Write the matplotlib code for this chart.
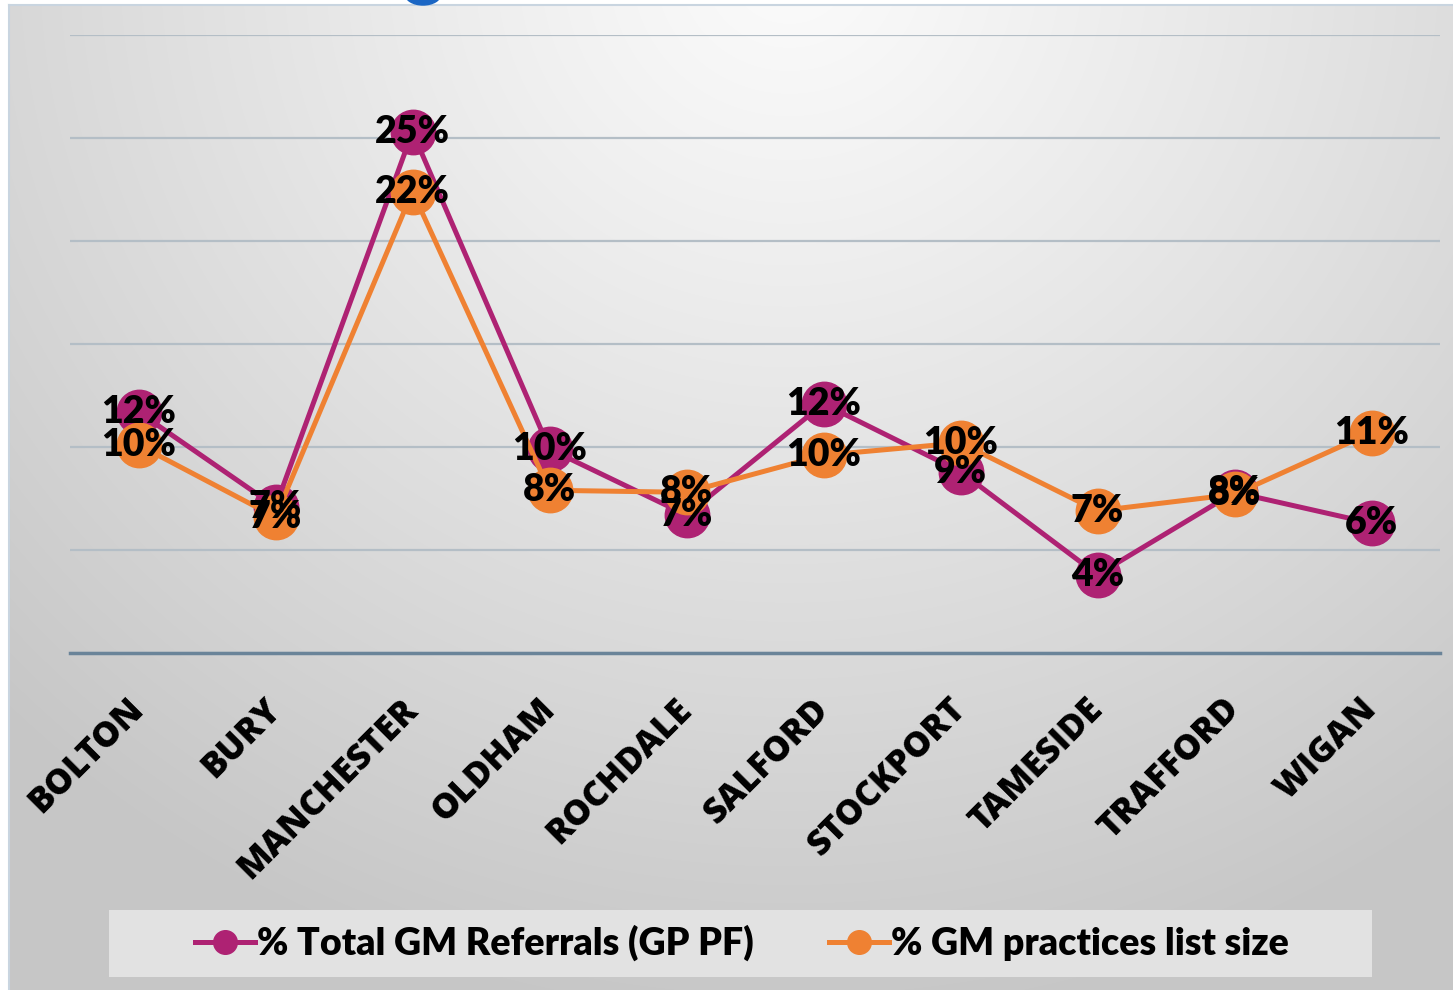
import numpy as np
import matplotlib
matplotlib.use("Agg")
import matplotlib.pyplot as plt
from matplotlib.patches import Rectangle, Ellipse
from matplotlib.lines import Line2D
from matplotlib.ticker import MultipleLocator

categories = ["BOLTON", "BURY", "MANCHESTER", "OLDHAM", "ROCHDALE", "SALFORD",
              "STOCKPORT", "TAMESIDE", "TRAFFORD", "WIGAN"]
referrals = [0.117, 0.071, 0.253, 0.099, 0.067, 0.121, 0.088, 0.038, 0.078, 0.063]
list_size = [0.101, 0.066, 0.224, 0.079, 0.078, 0.096, 0.102, 0.069, 0.077, 0.107]
series_names = ["% Total GM Referrals (GP PF)", "% GM practices list size"]

PINK = "#AE2273"
ORANGE = "#EF8132"
FONT = "Lato"

W, H = 1453, 990
fig = plt.figure(figsize=(W / 100, H / 100), dpi=100)
fig.patch.set_facecolor("white")

# background radial gradient panel
bg = fig.add_axes([9 / W, 0, 1 - 9 / W, 1 - 5 / H], zorder=0)
bg.set_axis_off()
yy, xx = np.mgrid[0:985, 0:1444]
cx, cy = 780, -40
d = np.sqrt(((xx - cx) / 1.05) ** 2 + ((yy - cy) / 1.0) ** 2)
t = np.clip(d / 1050, 0, 1)
val = 0.985 - 0.205 * t ** 1.1
img = np.dstack([val, val, val])
bg.imshow(img, aspect="auto", extent=[0, 1, 0, 1], interpolation="bilinear")
bg.set_xlim(0, 1)
bg.set_ylim(0, 1)
# frame borders
fig.add_artist(Line2D([9 / W, 1], [1 - 4.5 / H, 1 - 4.5 / H], color="#c9d5e0", lw=1.5, zorder=1))
fig.add_artist(Line2D([9 / W, 9 / W], [0, 1 - 4.5 / H], color="#c9d5e0", lw=1.5, zorder=1))
# small blue shape clipped at top
fig.add_artist(Ellipse((423 / W, 1 + 6 / H), 36 / W, 22 / H, color="#1a66c4", zorder=1))

ax = fig.add_axes([70 / W, 1 - 653 / H, (1440 - 70) / W, (653 - 35) / H], zorder=2)
ax.patch.set_alpha(0)
x = np.arange(len(categories))

ax.set_xlim(-0.5, len(categories) - 0.5)
ax.set_ylim(0, 0.30)
ax.yaxis.set_major_locator(MultipleLocator(0.05))
ax.grid(axis="y", color="#b4bec6", lw=1.6)
ax.set_axisbelow(True)
for s in ["top", "right", "left"]:
    ax.spines[s].set_visible(False)
ax.spines["bottom"].set_color("#6a8499")
ax.spines["bottom"].set_linewidth(2.5)
ax.tick_params(axis="y", left=False, labelleft=False)
ax.tick_params(axis="x", length=0, pad=37)

ax.plot(x, referrals, color=PINK, lw=3.6, marker="o", ms=32, mec=PINK, mfc=PINK,
        label=series_names[0], zorder=3)
ax.plot(x, list_size, color=ORANGE, lw=3.6, marker="o", ms=32, mec=ORANGE, mfc=ORANGE,
        label=series_names[1], zorder=4)

for xi, v in zip(x, referrals):
    ax.text(xi, v, f"{v:.0%}", ha="center", va="center", fontsize=27,
            fontfamily=FONT, fontweight="heavy", color="black", zorder=6)
for xi, v in zip(x, list_size):
    ax.text(xi, v, f"{v:.0%}", ha="center", va="center", fontsize=27,
            fontfamily=FONT, fontweight="heavy", color="black", zorder=6)

ax.set_xticks(x)
ax.set_xticklabels(categories, rotation=45, ha="right", va="center",
                   rotation_mode="anchor", fontsize=25, fontfamily="Open Sans",
                   fontweight=800)

# legend box
fig.add_artist(Rectangle((109 / W, 1 - 977 / H), (1372 - 109) / W, (977 - 910) / H,
                         transform=fig.transFigure, facecolor="#e2e2e2",
                         edgecolor="none", zorder=1.5))
handles = [Line2D([], [], color=PINK, lw=3.6, marker="o", ms=17),
           Line2D([], [], color=ORANGE, lw=3.6, marker="o", ms=17)]
leg = fig.legend(handles, series_names, loc="center",
                 bbox_to_anchor=(742 / W, 1 - 943 / H), ncol=2, frameon=False,
                 prop={"family": FONT, "weight": "heavy", "size": 27},
                 handlelength=1.6, handletextpad=0.05, columnspacing=2.0)
leg.set_zorder(5)

fig.savefig("out.png", dpi=100)
